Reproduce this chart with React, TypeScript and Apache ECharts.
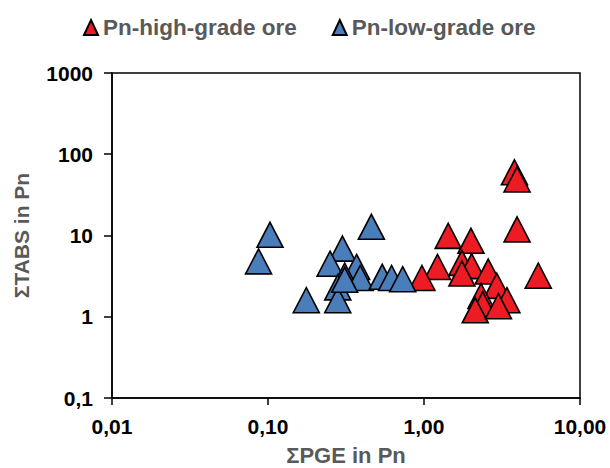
import React, { useEffect, useRef } from "react";
import * as echarts from "echarts";

const seriesNames = ["Pn-high-grade ore", "Pn-low-grade ore"];

const highGradeX = [3.8, 3.95, 3.95, 1.43, 2.0, 1.22, 0.97, 1.75, 2.02, 1.75, 2.58, 5.4, 2.93, 2.32, 3.4, 2.38, 2.13, 3.0];
const highGradeY = [60, 49, 11.9, 9.9, 8.6, 4.1, 3.0, 4.6, 4.2, 3.4, 3.6, 3.2, 2.4, 1.8, 1.6, 1.42, 1.2, 1.35];

const lowGradeX = [0.103, 0.087, 0.46, 0.3, 0.25, 0.37, 0.31, 0.39, 0.28, 0.176, 0.28, 0.54, 0.62, 0.73, 0.31];
const lowGradeY = [10.2, 4.8, 12.8, 6.9, 4.5, 4.1, 3.2, 3.0, 2.3, 1.6, 1.6, 3.1, 3.0, 2.9, 2.85];

const xTickLabels = ["0,01", "0,10", "1,00", "10,00"];
const yTickLabels = ["0,1", "1", "10", "100", "1000"];

const xTitle = "ΣPGE in Pn";
const yTitle = "ΣTABS in Pn";

const FONT = "'Liberation Sans', Arial, sans-serif";

export default function App() {
  const ref = useRef<HTMLDivElement>(null);
  useEffect(() => {
    if (!ref.current) return;
    const chart = echarts.init(ref.current, undefined, { renderer: "svg" });
    const pair = (xs: number[], ys: number[]) => xs.map((x, i) => [x, ys[i]]);
    const markerStyle = (color: string) => ({
      color,
      borderColor: "#000",
      borderWidth: 1.6,
      opacity: 1,
    });
    chart.setOption({
      animation: false,
      backgroundColor: "#fff",
      textStyle: { fontFamily: FONT },
      legend: {
        left: 83,
        top: 16,
        padding: 0,
        itemWidth: 14,
        itemHeight: 15,
        itemGap: 35,
        icon: "triangle",
        textStyle: { fontFamily: FONT, fontSize: 22.5, fontWeight: "bold", color: "#595959" },
        data: seriesNames,
      },
      grid: {
        left: 112,
        right: 30,
        top: 73,
        bottom: 70,
        show: true,
        borderColor: "#000",
        borderWidth: 1.5,
        containLabel: false,
        outerBoundsMode: "none",
      },
      xAxis: {
        type: "log",
        logBase: 10,
        min: 0.01,
        max: 10,
        name: xTitle,
        nameLocation: "middle",
        nameGap: 46,
        nameTextStyle: { fontFamily: FONT, fontSize: 22, fontWeight: "bold", color: "#595959" },
        axisLine: { show: true, lineStyle: { color: "#000", width: 1.5 } },
        axisTick: { show: true, inside: false, length: 7, lineStyle: { color: "#000", width: 1.5 } },
        minorTick: { show: false },
        splitLine: { show: false },
        axisLabel: {
          margin: 18,
          fontFamily: FONT,
          fontSize: 21,
          fontWeight: "bold",
          color: "#000",
          formatter: (v: number) => xTickLabels[Math.round(Math.log10(v)) + 2] ?? "",
        },
      },
      yAxis: {
        type: "log",
        logBase: 10,
        min: 0.1,
        max: 1000,
        name: yTitle,
        nameLocation: "middle",
        nameGap: 80,
        nameTextStyle: { fontFamily: FONT, fontSize: 21, fontWeight: "bold", color: "#595959" },
        axisLine: { show: true, lineStyle: { color: "#000", width: 1.5 } },
        axisTick: { show: true, inside: false, length: 8, lineStyle: { color: "#000", width: 1.5 } },
        minorTick: { show: false },
        splitLine: { show: false },
        axisLabel: {
          margin: 19,
          fontFamily: FONT,
          fontSize: 21,
          fontWeight: "bold",
          color: "#000",
          formatter: (v: number) => yTickLabels[Math.round(Math.log10(v)) + 1] ?? "",
        },
      },
      series: [
        {
          name: seriesNames[0],
          type: "scatter",
          symbol: "triangle",
          symbolSize: [26, 25],
          itemStyle: markerStyle("#ED1C24"),
          data: pair(highGradeX, highGradeY),
        },
        {
          name: seriesNames[1],
          type: "scatter",
          symbol: "triangle",
          symbolSize: [26, 25],
          itemStyle: markerStyle("#4A7EBB"),
          data: pair(lowGradeX, lowGradeY),
        },
      ],
    });
    return () => chart.dispose();
  }, []);
  return (
    <div
      ref={ref}
      style={{ position: "fixed", left: 0, top: 0, width: 610, height: 468, background: "#fff" }}
    />
  );
}
